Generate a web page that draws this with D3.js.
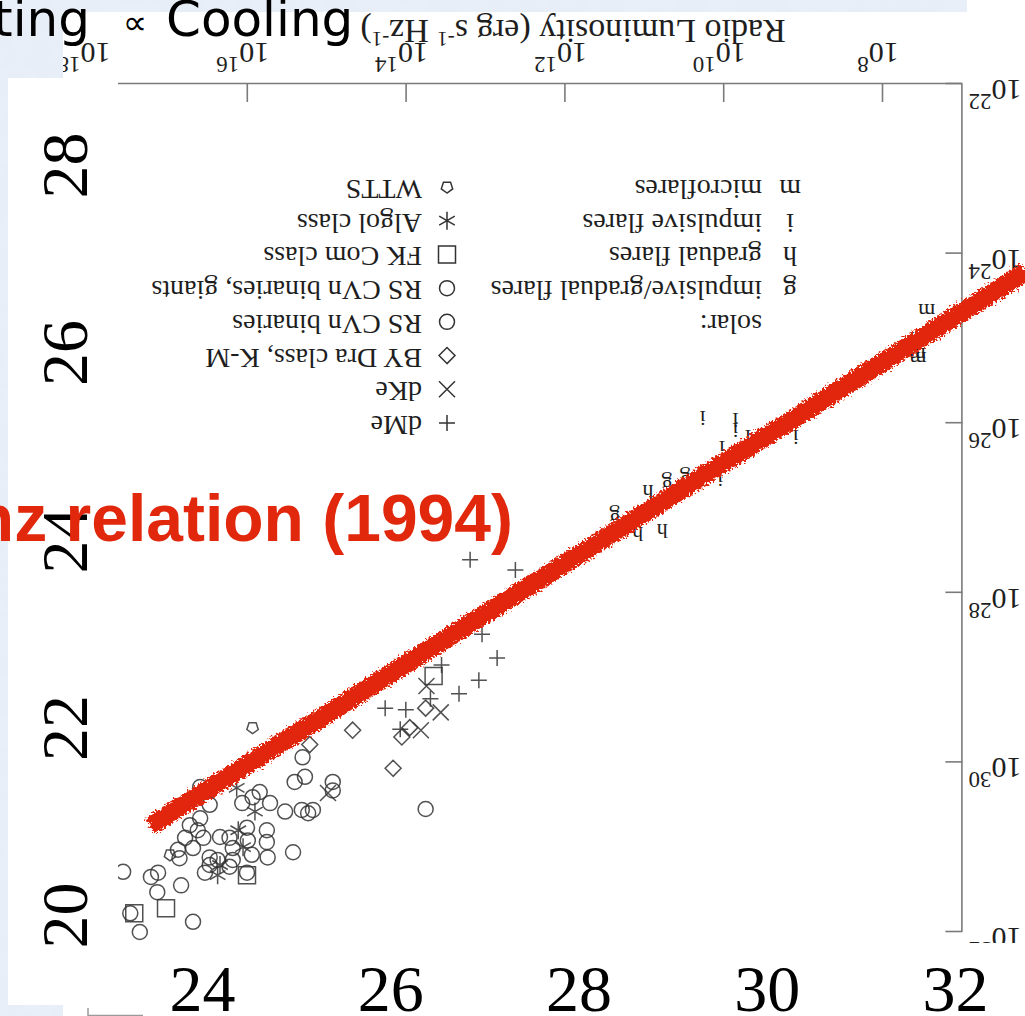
<!DOCTYPE html>
<html>
<head>
<meta charset="utf-8">
<script src="https://cdn.jsdelivr.net/npm/d3@7"></script>
<style>
  html, body { margin: 0; padding: 0; overflow: hidden; background: #e3ebf6; }
  svg { display: block; }
</style>
</head>
<body>
<svg id="chart" width="1025" height="1016"></svg>
<script>
// points are [log10 L_R (erg s^-1 Hz^-1), log10 L_X (erg s^-1)]
const dMe = [[13.20,27.61],[12.63,27.73],[13.05,28.49],[12.86,28.77],[13.09,29.03],[13.34,29.19],
  [13.56,28.85],[13.59,28.58],[13.70,29.25],[14.27,29.36],[14.01,29.38],[14.08,29.61]];
const dKe = [[13.75,29.10],[13.57,29.41],[13.82,29.62],[14.99,30.36]];
const byDra = [[13.76,29.36],[13.96,29.59],[14.06,29.70],[14.68,29.62],[14.17,30.07],[15.22,29.79]];
const rsCVn = [[15.31,29.94],[15.41,30.23],[15.28,30.17],[14.93,30.23],[14.93,30.33],[13.76,30.55],
  [15.85,30.35],[15.94,30.41],[16.07,30.48],[15.72,30.48],[15.53,30.58],[15.32,30.56],[15.24,30.60],
  [15.18,30.56],[16.48,30.50],[16.01,30.77],[15.76,30.80],[16.35,30.88],[16.23,30.89],[16.00,30.92],
  [15.76,30.94],[16.19,31.01],[15.95,31.09],[15.75,31.12],[15.43,31.06],[16.48,31.12],[16.38,31.15],
  [16.19,31.15],[16.48,31.21],[16.23,31.23],[16.01,31.30]];
const rsCVnGiants = [[16.60,30.29],[16.60,30.66],[16.73,30.74],[16.63,30.80],[16.79,30.89],[16.56,30.89],
  [16.69,31.01],[16.88,31.03],[16.86,31.13],[16.54,31.30],[17.13,31.30],[17.22,31.35],[17.57,31.29],
  [16.84,31.45],[17.14,31.53],[17.48,31.78],[16.69,31.88],[17.36,32.00]];
const fkCom = [[13.66,28.98],[16.01,31.33],[17.03,31.72],[17.43,31.78]];
const algol = [[16.14,30.30],[15.91,30.58],[16.12,30.80],[16.06,31.00],[16.35,31.21],[16.38,31.33]];
const wtts = [[15.94,29.59],[16.98,31.09]];
// solar flares, drawn as letters
const solarG = [[11.38,27.11],[10.72,26.73],[10.49,26.67]];
const solarH = [[10.96,26.82],[11.09,27.32],[10.78,27.28]];
const solarI = [[10.27,25.95],[9.86,25.97],[9.86,26.09],[9.70,26.17],[10.03,26.30],[10.05,26.67],[9.10,26.17]];
const solarM = [[7.45,24.69],[7.56,25.02],[7.57,25.20],[7.56,25.25]];

const radioTicks = [8, 10, 12, 14, 16, 18];
const xrayTicks = [22, 24, 26, 28, 30, 32];

const starLegend = ["dMe", "dKe", "BY Dra class, K-M", "RS CVn binaries", "RS CVn binaries, giants",
  "FK Com class", "Algol class", "WTTS"];
const starSymbols = ["plus", "times", "diamond", "circle", "circle", "square", "asterisk", "pentagon"];
const solarLegend = ["solar:", "impulsive/gradual flares", "gradual flares", "impulsive flares", "microflares"];
const solarLetters = ["", "g", "h", "i", "m"];

// overlay labels that were pasted on the slide
const overlayXTicks = [24, 26, 28, 30, 32];
const overlayYTicks = [20, 22, 24, 26, 28];
const redLine = [[23.45, 20.95], [32.75, 26.86]];

const W = 1025, H = 1016;
const svg = d3.select("#chart");
const defs = svg.append("defs");

const rough = defs.append("filter").attr("id", "rough")
  .attr("x", "-5%").attr("y", "-10%").attr("width", "110%").attr("height", "120%");
rough.append("feTurbulence").attr("type", "fractalNoise").attr("baseFrequency", 0.45)
  .attr("numOctaves", 2).attr("seed", 4).attr("result", "n");
rough.append("feDisplacementMap").attr("in", "SourceGraphic").attr("in2", "n")
  .attr("scale", 10).attr("xChannelSelector", "R").attr("yChannelSelector", "G");

const paper = defs.append("filter").attr("id", "paper");
paper.append("feTurbulence").attr("type", "fractalNoise").attr("baseFrequency", 0.04)
  .attr("numOctaves", 3).attr("seed", 2).attr("result", "t");
paper.append("feColorMatrix").attr("in", "t").attr("type", "matrix")
  .attr("values", "0 0 0 0 0.84  0 0 0 0 0.89  0 0 0 0 0.96  0 0 0 0.55 0");

// slide background
svg.append("rect").attr("width", W).attr("height", H).attr("fill", "#e6edf7");
svg.append("rect").attr("width", W).attr("height", H).attr("filter", "url(#paper)");

// white area of the pasted figure
svg.append("rect").attr("x", 63).attr("y", 12).attr("width", W - 63).attr("height", H - 12).attr("fill", "#fff");
svg.append("rect").attr("x", 967).attr("y", 0).attr("width", W - 967).attr("height", 12).attr("fill", "#fff");

// the figure is pasted upside down: draw it normally, then rotate by 180
const fig = svg.append("g").attr("transform", `translate(${W},${H}) rotate(180)`);
defs.append("clipPath").attr("id", "figClip")
  .append("rect").attr("x", 0).attr("y", 0).attr("width", W - 63).attr("height", H - 12);
const plot = fig.append("g").attr("clip-path", "url(#figClip)");

const x = d3.scaleLinear().domain([7, 18]).range([62.6, 62.6 + 11 * 79.4]);
const y = d3.scaleLinear().domain([22, 32]).range([932, 84]);

const serif = "'Liberation Serif', 'Times New Roman', serif";
const ink = "#1e1e1e";

const xAxis = plot.append("g").attr("transform", `translate(0,${y(22)})`)
  .call(d3.axisBottom(x).tickValues(radioTicks).tickSize(-18).tickSizeOuter(0).tickFormat(""));
const yAxis = plot.append("g").attr("transform", `translate(${x(7)},0)`)
  .call(d3.axisLeft(y).tickValues(xrayTicks).tickSize(-17).tickSizeOuter(0).tickFormat(""));
[xAxis, yAxis].forEach(a => {
  a.selectAll("path, line").attr("stroke", "#7a7a7a").attr("stroke-width", 1.6);
});

function powerLabel(t, exp) {
  t.append("tspan").text("10");
  t.append("tspan").attr("dy", -14).attr("font-size", 23).text(exp);
}
radioTicks.forEach(v => {
  const t = plot.append("text").attr("x", x(v) + 5).attr("y", y(22) + 41)
    .attr("text-anchor", "middle").attr("font-family", serif).attr("font-size", 30).attr("fill", ink);
  powerLabel(t, v);
});
xrayTicks.forEach(v => {
  const t = plot.append("text").attr("x", x(7) - 6).attr("y", y(v) + 4)
    .attr("text-anchor", "end").attr("font-family", serif).attr("font-size", 30).attr("fill", ink);
  powerLabel(t, v);
});

const axisTitle = plot.append("text").attr("x", 452).attr("y", 996).attr("text-anchor", "middle")
  .attr("font-family", serif).attr("font-size", 34).attr("fill", ink);
axisTitle.append("tspan").text("Radio Luminosity (erg s");
axisTitle.append("tspan").attr("dy", -12).attr("font-size", 21).text("-1");
axisTitle.append("tspan").attr("dy", 12).text(" Hz");
axisTitle.append("tspan").attr("dy", -12).attr("font-size", 21).text("-1");
axisTitle.append("tspan").attr("dy", 12).text(")");

function symbolPath(type) {
  const p = d3.path();
  if (type === "plus") { p.moveTo(-8, 0); p.lineTo(8, 0); p.moveTo(0, -8); p.lineTo(0, 8); }
  else if (type === "times") { p.moveTo(-8, -8); p.lineTo(8, 8); p.moveTo(-8, 8); p.lineTo(8, -8); }
  else if (type === "diamond") { p.moveTo(0, -8); p.lineTo(8, 0); p.lineTo(0, 8); p.lineTo(-8, 0); p.closePath(); }
  else if (type === "circle") { p.arc(0, 0, 7.5, 0, 2 * Math.PI); }
  else if (type === "square") { p.rect(-8.5, -8.5, 17, 17); }
  else if (type === "asterisk") {
    p.moveTo(0, -9); p.lineTo(0, 9);
    p.moveTo(-7.8, -4.5); p.lineTo(7.8, 4.5);
    p.moveTo(-7.8, 4.5); p.lineTo(7.8, -4.5);
  } else if (type === "pentagon") {
    d3.range(5).forEach(k => {
      const a = -Math.PI / 2 + k * 2 * Math.PI / 5;
      if (k === 0) p.moveTo(6 * Math.cos(a), 6 * Math.sin(a));
      else p.lineTo(6 * Math.cos(a), 6 * Math.sin(a));
    });
    p.closePath();
  }
  return p.toString();
}

const series = [dMe, dKe, byDra, rsCVn, rsCVnGiants, fkCom, algol, wtts];
const marks = plot.append("g").attr("fill", "none").attr("stroke", "#333")
  .attr("stroke-width", 1.5).attr("stroke-opacity", 0.85);
series.forEach((s, i) => {
  marks.selectAll(null).data(s).enter().append("path")
    .attr("transform", d => `translate(${x(d[0])},${y(d[1])})`)
    .attr("d", symbolPath(starSymbols[i]));
});

const letters = plot.append("g").attr("font-family", serif).attr("font-size", 22)
  .attr("fill", ink).attr("text-anchor", "middle");
[[solarG, "g"], [solarH, "h"], [solarI, "i"], [solarM, "m"]].forEach(([s, ch]) => {
  letters.selectAll(null).data(s).enter().append("text")
    .attr("x", d => x(d[0])).attr("y", d => y(d[1])).attr("dy", "0.35em").text(ch);
});

// legends
const rowY = d3.scaleLinear().domain([0, 7]).range([593, 829]);
const legend = plot.append("g").attr("font-family", serif).attr("font-size", 28).attr("fill", ink);
starLegend.forEach((name, i) => {
  legend.append("path").attr("transform", `translate(578,${rowY(i)})`)
    .attr("d", symbolPath(starSymbols[i])).attr("fill", "none").attr("stroke", "#333").attr("stroke-width", 1.5);
  legend.append("text").attr("x", 603).attr("y", rowY(i) + 7).text(name);
});
solarLegend.forEach((name, i) => {
  const r = rowY(i + 3);
  legend.append("text").attr("x", 235).attr("y", r + 7).attr("text-anchor", "middle").text(solarLetters[i]);
  legend.append("text").attr("x", 263).attr("y", r + 7).text(name);
});

// white overlay with the large slide labels
svg.append("rect").attr("x", 8).attr("y", 78).attr("width", 110).attr("height", 927).attr("fill", "#fff");
svg.append("rect").attr("x", 8).attr("y", 943).attr("width", W - 8).attr("height", 62).attr("fill", "#fff");
svg.append("path").attr("d", "M88,1008V1015.5H143").attr("fill", "none").attr("stroke", "#9a9a9a").attr("stroke-width", 1.5);

const ox = d3.scaleLinear().domain([24, 32]).range([202, 955]);
const oy = d3.scaleLinear().domain([20, 28]).range([915, 165]);

const bottomLabels = svg.append("g").attr("transform", "translate(0,1011)")
  .call(d3.axisBottom(ox).tickValues(overlayXTicks).tickSize(0).tickPadding(0));
const leftLabels = svg.append("g").attr("transform", "translate(87,0)")
  .call(d3.axisLeft(oy).tickValues(overlayYTicks).tickSize(0).tickPadding(0));
[bottomLabels, leftLabels].forEach(g => {
  g.select(".domain").remove();
  g.selectAll("text").attr("font-family", serif).attr("font-size", 66).attr("fill", "#000")
    .attr("x", 0).attr("y", 0).attr("dy", null).attr("text-anchor", "middle");
});
leftLabels.selectAll("text").attr("transform", "rotate(-90)");

// hand-drawn red relation line
svg.append("path").datum(redLine)
  .attr("d", d3.line().x(d => ox(d[0])).y(d => oy(d[1])))
  .attr("stroke", "#e1280c").attr("stroke-width", 19).attr("fill", "none")
  .attr("filter", "url(#rough)");

svg.append("text").attr("x", 513).attr("y", 541).attr("text-anchor", "end")
  .attr("font-family", "'Liberation Sans', Arial, sans-serif").attr("font-weight", "bold")
  .attr("font-size", 66).attr("fill", "#e1280c").text("Güdel-Benz relation (1994)");

// slide title
const titleFont = "'Comic Sans MS', 'DejaVu Sans', sans-serif";
svg.append("text").attr("x", 90).attr("y", 36).attr("text-anchor", "end")
  .attr("font-family", titleFont).attr("font-size", 50).attr("fill", "#000").text("Heating");
svg.append("text").attr("x", 135).attr("y", 34).attr("text-anchor", "middle")
  .attr("font-family", titleFont).attr("font-size", 34).attr("fill", "#000").text("∝");
svg.append("text").attr("x", 166).attr("y", 36)
  .attr("font-family", titleFont).attr("font-size", 50).attr("fill", "#000").text("Cooling");
</script>
</body>
</html>
